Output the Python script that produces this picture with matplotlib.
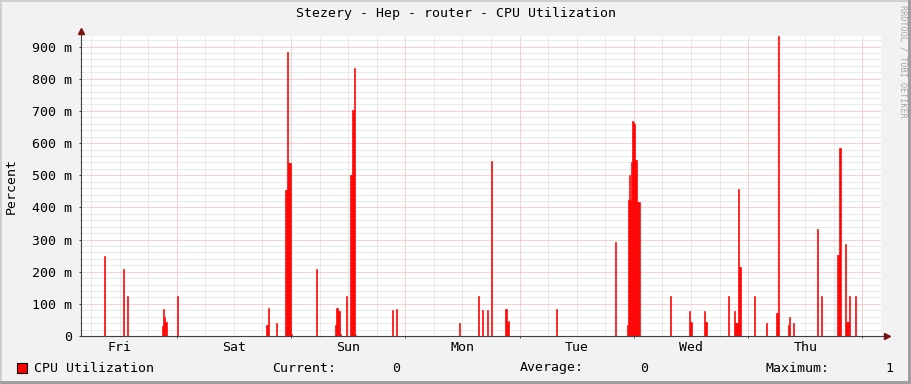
import matplotlib
matplotlib.use('Agg')
import matplotlib.pyplot as plt
from matplotlib.patches import Rectangle
from matplotlib.ticker import MultipleLocator, FuncFormatter

#CPU samples: hours since Friday 00:00 and load in percent
spike_hours = [8.81, 12.80, 13.64,
               20.92, 21.13, 21.34, 21.55, 21.76,
               24.13,
               42.73, 42.94, 43.15, 44.90,
               46.72, 46.93, 47.14, 47.35, 47.56, 47.77, 47.98,
               53.29,
               57.21, 57.42, 57.63, 57.84, 58.05, 58.26,
               59.58,
               60.36, 60.57, 60.78, 60.99, 61.20, 61.41,
               69.23, 70.01,
               83.29, 87.27, 88.11, 89.16, 90.00,
               92.88, 93.09, 93.30, 93.51,
               103.64, 116.02,
               118.47, 118.68, 118.89, 119.10, 119.31, 119.52, 119.73,
               119.94, 120.15, 120.36, 120.57, 120.78, 120.99,
               127.55,
               131.48, 131.69, 131.90,
               134.83, 135.04, 135.25,
               139.77,
               141.13, 141.34, 141.55, 141.76, 141.97, 142.18, 142.39,
               145.18, 147.69,
               149.94, 150.15, 150.36,
               152.46, 152.67, 153.51,
               158.39, 159.24,
               162.74, 162.95, 163.16, 163.37,
               164.41, 164.62, 164.83, 165.04, 165.25,
               166.37]
spike_values = [0.249, 0.208, 0.124,
                0.030, 0.084, 0.060, 0.044, 0.044,
                0.124,
                0.034, 0.034, 0.087, 0.040,
                0.454, 0.454, 0.883, 0.538, 0.538, 0.538, 0.005,
                0.208,
                0.034, 0.087, 0.087, 0.078, 0.078, 0.006,
                0.124,
                0.500, 0.500, 0.703, 0.703, 0.834, 0.003,
                0.081, 0.084,
                0.040, 0.124, 0.081, 0.081, 0.544,
                0.084, 0.084, 0.040, 0.046,
                0.084, 0.292,
                0.034, 0.423, 0.500, 0.423, 0.540, 0.669, 0.664,
                0.660, 0.547, 0.547, 0.417, 0.417, 0.417,
                0.124,
                0.078, 0.045, 0.045,
                0.078, 0.045, 0.045,
                0.124,
                0.078, 0.040, 0.040, 0.040, 0.457, 0.215, 0.215,
                0.124, 0.040,
                0.072, 0.072, 0.933,
                0.034, 0.060, 0.040,
                0.333, 0.124,
                0.252, 0.252, 0.585, 0.585,
                0.286, 0.045, 0.045, 0.045, 0.124,
                0.124]
day_names = ['Fri', 'Sat', 'Sun', 'Mon', 'Tue', 'Wed', 'Thu']
title = 'Stezery - Hep - router - CPU Utilization'
y_label = 'Percent'
legend_label = 'CPU Utilization'
current_value = '0'
average_value = '0'
maximum_value = '1'

plt.rcParams['font.family'] = 'DejaVu Sans Mono'
W, H = 911, 384
fs = 9.5

def fx(px):
    return px / W

def fy(py):
    return 1 - py / H

fig = plt.figure(figsize=(W / 100, H / 100), dpi=100)
fig.patch.set_facecolor('#F2F2F2')

ax = fig.add_axes([fx(81), fy(336), 800 / W, 300 / H])
ax.set_facecolor('white')
ax.bar(spike_hours, spike_values, width=168 / 800, align='edge',
       color='#FF0000', edgecolor='#FF0000', linewidth=0.45, zorder=3)
ax.set_xlim(3.9, 171.9)
ax.set_ylim(0, 0.933)

#Grid: days / 6 hours, 100 m / 20 m
ax.xaxis.set_major_locator(MultipleLocator(24))
ax.xaxis.set_minor_locator(MultipleLocator(6))
ax.yaxis.set_major_locator(MultipleLocator(0.1))
ax.yaxis.set_minor_locator(MultipleLocator(0.02))
ax.grid(which='minor', color='#D6D6D6', linestyle=(0, (1, 1)), linewidth=0.72, zorder=1)
ax.grid(which='major', color='#F2A4A4', linestyle=(0, (1, 1)), linewidth=0.72, zorder=1)
ax.set_axisbelow(True)
ax.yaxis.set_major_formatter(FuncFormatter(lambda v, p: '0' if abs(v) < 1e-9 else '%d m' % round(v * 1000)))
ax.tick_params(which='major', length=1.5, width=0.7, color='#404040', pad=5, labelsize=fs, labelbottom=False)
ax.tick_params(which='minor', length=0.8, width=0.5, color='#909090')
for s in ax.spines.values():
    s.set_visible(False)

#Axis lines with arrows
ax.plot([0, 1.003], [0, 0], transform=ax.transAxes, color='#404040', lw=0.8, clip_on=False, zorder=4)
ax.plot([0, 0], [0, 1.01], transform=ax.transAxes, color='#404040', lw=0.8, clip_on=False, zorder=4)
ax.plot([1.007], [0], marker='>', ms=4.5, color='#7A1010', transform=ax.transAxes, clip_on=False, zorder=5)
ax.plot([0], [1.016], marker='^', ms=4.5, color='#7A1010', transform=ax.transAxes, clip_on=False, zorder=5)

#Day labels at noon
for i, name in enumerate(day_names):
    ax.text(12 + 24 * i, -0.037, name, transform=ax.get_xaxis_transform(),
            ha='center', va='center', fontsize=fs)

fig.text(0.5, fy(14), title, ha='center', va='center', fontsize=fs)
fig.text(fx(11), fy(186), y_label, rotation=90, ha='center', va='center', fontsize=fs)

#Legend row
fig.patches.append(Rectangle((fx(17), fy(373)), 10 / W, 10 / H, transform=fig.transFigure,
                             facecolor='#FF0000', edgecolor='black', lw=0.8))
fig.text(fx(34), fy(368), legend_label, va='center', ha='left', fontsize=fs)
fig.text(fx(272), fy(368), 'Current:', va='center', ha='left', fontsize=fs)
fig.text(fx(392), fy(368), current_value, va='center', ha='left', fontsize=fs)
fig.text(fx(520), fy(368), 'Average:', va='center', ha='left', fontsize=fs)
fig.text(fx(640), fy(368), average_value, va='center', ha='left', fontsize=fs)
fig.text(fx(765), fy(368), 'Maximum:', va='center', ha='left', fontsize=fs)
fig.text(fx(885), fy(368), maximum_value, va='center', ha='left', fontsize=fs)

fig.text(fx(903), fy(5), 'RRDTOOL / TOBI OETIKER', rotation=-90, ha='center', va='top',
         fontsize=6.1, color='#A8A8A8')

#Frame shading
fig.patches.append(Rectangle((0, fy(2)), 1, 2 / H, transform=fig.transFigure, facecolor='#CFCFCF', lw=0))
fig.patches.append(Rectangle((0, 0), 2 / W, 1, transform=fig.transFigure, facecolor='#CFCFCF', lw=0))
fig.patches.append(Rectangle((1 - 3 / W, 0), 3 / W, 1, transform=fig.transFigure, facecolor='#A0A0A0', lw=0))
fig.patches.append(Rectangle((0, 0), 1, 3 / H, transform=fig.transFigure, facecolor='#A0A0A0', lw=0))

fig.savefig('out.png', dpi=100, facecolor=fig.get_facecolor())
